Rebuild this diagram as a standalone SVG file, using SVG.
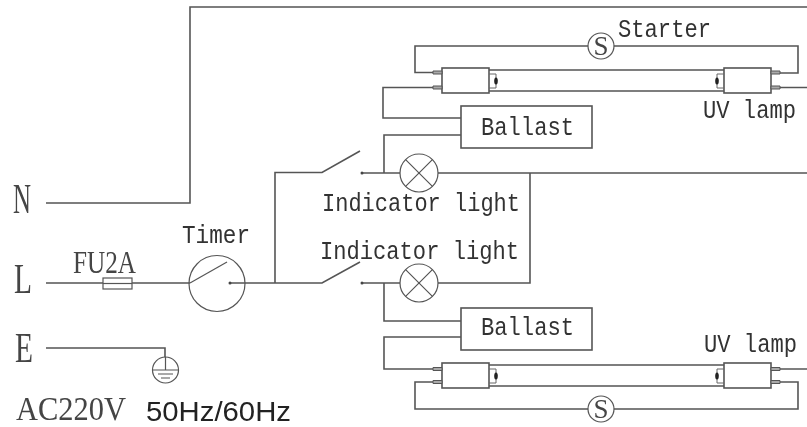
<svg xmlns="http://www.w3.org/2000/svg" width="807" height="427" viewBox="0 0 807 427">
<style>
.w{fill:none;stroke:#555;stroke-width:1.6}
.n{fill:none;stroke:#555;stroke-width:1.2}
.b{fill:#fff;stroke:#555;stroke-width:1.6}
.c{fill:#fff;stroke:#555;stroke-width:1.2}
.t{stroke:#666;stroke-width:1;fill:none}
.p{fill:#aaa;stroke:#555;stroke-width:1}
.m{font-family:"Liberation Mono",monospace;font-size:26px;fill:#333}
.s{font-family:"Liberation Serif",serif;fill:#444}
.o{font-family:"Liberation Sans",sans-serif;font-size:27px;fill:#222}
</style>
<defs>
<filter id="soft" x="-2%" y="-2%" width="104%" height="104%"><feGaussianBlur stdDeviation="0.45"/></filter>
<g id="tube">
<path class="w" d="M489 2H724M489 23H724"/>
<rect class="b" x="442" y="0" width="47" height="25"/>
<rect class="b" x="724" y="0" width="47" height="25"/>
<path class="t" d="M489 6h7v14h-7M724 6h-7v14h7"/>
<ellipse cx="496" cy="13" rx="1.8" ry="3.6" fill="#222"/>
<ellipse cx="717" cy="13" rx="1.8" ry="3.6" fill="#222"/>
</g>
</defs>
<g filter="url(#soft)">
<g id="connectors">
<path class="w" d="M46 203H190V7H807"/>
<path class="w" d="M46 283H190M230 283H322L360 262"/>
<path class="w" d="M275 283V172.500H322L360 151"/>
<path class="w" d="M46 348H165V370"/>
<path class="w" d="M362 173H400M438 173H807M530 173V283H438M362 283H400"/>
<path class="w" d="M384 173V135H461M461 118H383V87.500H442"/>
<path class="w" d="M384 283V321H461M461 337H384V369H442"/>
<path class="w" d="M433 72.500H415V46H798V73H771"/>
<path class="w" d="M771 87.500H807"/>
<path class="w" d="M771 369H807"/>
<path class="w" d="M433 382H415V409H798V382H771"/>
</g>
<g id="lamp-top"><use href="#tube" y="68"/><path class="p" d="M433 71h9v3h-9zM433 86h9v3h-9zM771 71h9v3h-9zM771 86h9v3h-9z"/></g>
<g id="lamp-bottom"><use href="#tube" y="363"/><path class="p" d="M433 367.500h9v3h-9zM433 380.500h9v3h-9zM771 367.500h9v3h-9zM771 380.500h9v3h-9z"/></g>
<g id="starter-top"><circle class="c" cx="601" cy="46" r="13"/><text x="601" y="55" text-anchor="middle" class="s" font-size="27">S</text><text x="618" y="37" class="m" textLength="93" lengthAdjust="spacingAndGlyphs">Starter</text></g>
<g id="starter-bottom"><circle class="c" cx="601" cy="409" r="13"/><text x="601" y="418" text-anchor="middle" class="s" font-size="27">S</text></g>
<g id="ballast-top"><rect class="b" x="461" y="106" width="131" height="42"/><text x="481" y="135" class="m" textLength="93" lengthAdjust="spacingAndGlyphs">Ballast</text></g>
<g id="ballast-bottom"><rect class="b" x="461" y="308" width="131" height="42"/><text x="481" y="335" class="m" textLength="93" lengthAdjust="spacingAndGlyphs">Ballast</text></g>
<g id="light-top"><circle class="c" cx="419" cy="173" r="19"/><path class="n" d="M405.600 159.600L432.400 186.400M432.400 159.600L405.600 186.400"/><text x="322" y="211" class="m" textLength="198" lengthAdjust="spacingAndGlyphs">Indicator light</text></g>
<g id="light-bottom"><circle class="c" cx="419" cy="283" r="19"/><path class="n" d="M405.600 269.600L432.400 296.400M432.400 269.600L405.600 296.400"/><text x="320" y="259" class="m" textLength="199" lengthAdjust="spacingAndGlyphs">Indicator light</text></g>
<g id="uv-labels"><text transform="translate(703 118) scale(.852 1)" class="m">UV lamp</text><text transform="translate(704 352) scale(.852 1)" class="m">UV lamp</text></g>
<g id="switches"><circle cx="362" cy="173" r="1.500" fill="#444"/><circle cx="362" cy="283" r="1.500" fill="#444"/></g>
<g id="fuse"><rect class="c" x="103" y="278" width="29" height="11"/><path class="n" d="M103 283.500H132"/><text x="73" y="273" class="s" font-size="32" textLength="63" lengthAdjust="spacingAndGlyphs">FU2A</text></g>
<g id="timer"><circle class="n" cx="217" cy="283.500" r="28"/><path class="n" d="M190 283L227 262"/><circle cx="230" cy="283" r="1.500" fill="#444"/><text x="182" y="243" class="m" textLength="68" lengthAdjust="spacingAndGlyphs">Timer</text></g>
<g id="ground"><circle class="c" cx="165.500" cy="370" r="13"/><path class="n" d="M165.500 357V370M153 370H179M158 374H173M161 378H170"/></g>
<g id="terminals">
<text x="13" y="213" class="s" font-size="42" textLength="18" lengthAdjust="spacingAndGlyphs">N</text>
<text x="14" y="293" class="s" font-size="42" textLength="18" lengthAdjust="spacingAndGlyphs">L</text>
<text x="15" y="362" class="s" font-size="42" textLength="18" lengthAdjust="spacingAndGlyphs">E</text>
<text x="16" y="419.500" class="s" font-size="34" textLength="110" lengthAdjust="spacingAndGlyphs">AC220V</text>
<text x="146" y="421" class="o" textLength="145" lengthAdjust="spacingAndGlyphs">50Hz/60Hz</text>
</g>
</g>
</svg>
